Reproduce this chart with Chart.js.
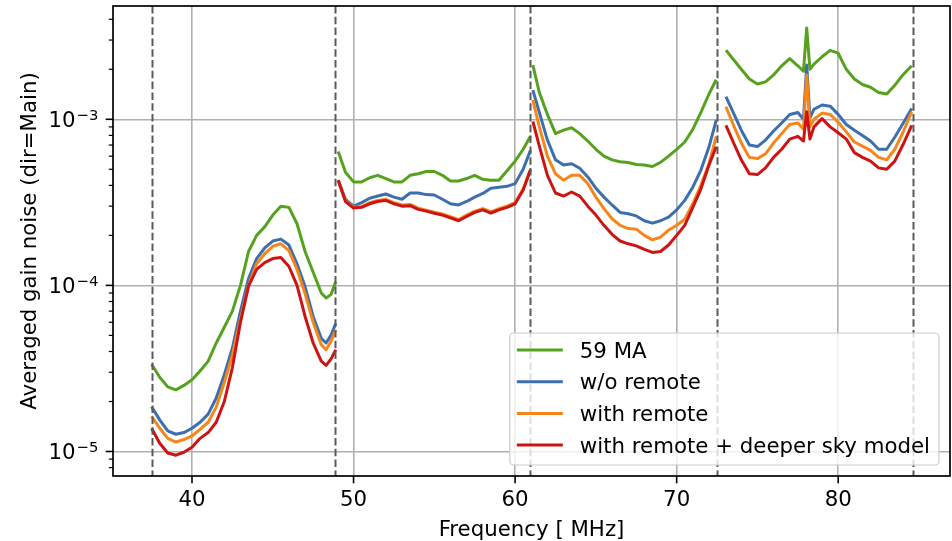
<!DOCTYPE html>
<html>
<head>
<meta charset="utf-8">
<script src="https://cdn.jsdelivr.net/npm/chart.js@4.4.1/dist/chart.umd.min.js"></script>
<style>
  html, body { margin: 0; padding: 0; background: #fff; }
  #wrap { width: 952px; height: 541px; }
</style>
</head>
<body>
<div id="wrap"><canvas id="chartGainNoise" width="952" height="541"></canvas></div>
<script>
/* Frequencies of each sub-band [MHz] */
const band1Freq = [37.5, 38, 38.5, 39, 39.5, 40, 40.5, 41, 41.5, 42, 42.5, 43, 43.5, 44, 44.5, 45, 45.5, 46, 46.5, 47, 47.5, 48, 48.3, 48.6, 48.9];
const band2Freq = [49.05, 49.5, 50, 50.5, 51, 51.5, 52, 52.5, 53, 53.5, 54, 54.5, 55, 55.5, 56, 56.5, 57, 57.5, 58, 58.5, 59, 59.5, 60, 60.5, 60.95];
const band3Freq = [61.1, 61.5, 62, 62.5, 63, 63.5, 64, 64.5, 65, 65.5, 66, 66.5, 67, 67.5, 68, 68.5, 69, 69.5, 70, 70.5, 71, 71.5, 72, 72.45];
const band4Freq = [73.05, 73.5, 74, 74.5, 75, 75.5, 76, 76.5, 77, 77.5, 77.85, 78.05, 78.25, 78.5, 79, 79.5, 80, 80.5, 81, 81.5, 82, 82.5, 83, 83.5, 84, 84.55];

/* 59 MA */
const ma59Band1 = [3.35e-5, 2.8e-5, 2.45e-5, 2.35e-5, 2.5e-5, 2.7e-5, 3.05e-5, 3.5e-5, 4.5e-5, 5.6e-5, 7.0e-5, 1.0e-4, 1.6e-4, 2.0e-4, 2.25e-4, 2.65e-4, 3.0e-4, 2.95e-4, 2.35e-4, 1.6e-4, 1.2e-4, 9.0e-5, 8.4e-5, 8.8e-5, 1.05e-4];
const ma59Band2 = [6.4e-4, 4.8e-4, 4.2e-4, 4.2e-4, 4.45e-4, 4.6e-4, 4.4e-4, 4.2e-4, 4.2e-4, 4.6e-4, 4.7e-4, 4.85e-4, 4.85e-4, 4.6e-4, 4.25e-4, 4.25e-4, 4.4e-4, 4.6e-4, 4.35e-4, 4.3e-4, 4.3e-4, 4.9e-4, 5.6e-4, 6.6e-4, 7.9e-4];
const ma59Band3 = [2.12e-3, 1.45e-3, 1.07e-3, 8.2e-4, 8.6e-4, 8.9e-4, 8.2e-4, 7.4e-4, 6.6e-4, 6.0e-4, 5.7e-4, 5.55e-4, 5.5e-4, 5.35e-4, 5.3e-4, 5.2e-4, 5.5e-4, 6.0e-4, 6.6e-4, 7.3e-4, 8.7e-4, 1.1e-3, 1.42e-3, 1.73e-3];
const ma59Band4 = [2.61e-3, 2.3e-3, 2.0e-3, 1.75e-3, 1.63e-3, 1.68e-3, 1.85e-3, 2.1e-3, 2.32e-3, 2.1e-3, 1.95e-3, 3.55e-3, 2.0e-3, 2.15e-3, 2.38e-3, 2.6e-3, 2.5e-3, 2.0e-3, 1.75e-3, 1.62e-3, 1.56e-3, 1.45e-3, 1.42e-3, 1.6e-3, 1.85e-3, 2.1e-3];

/* w/o remote */
const noRemoteBand1 = [1.86e-5, 1.55e-5, 1.33e-5, 1.27e-5, 1.3e-5, 1.38e-5, 1.5e-5, 1.68e-5, 2.1e-5, 2.9e-5, 4.2e-5, 7.0e-5, 1.1e-4, 1.45e-4, 1.68e-4, 1.85e-4, 1.9e-4, 1.75e-4, 1.35e-4, 9.8e-5, 6.5e-5, 4.8e-5, 4.5e-5, 5.0e-5, 5.9e-5];
const noRemoteBand2 = [4.3e-4, 3.3e-4, 3.0e-4, 3.15e-4, 3.35e-4, 3.45e-4, 3.55e-4, 3.4e-4, 3.3e-4, 3.6e-4, 3.6e-4, 3.52e-4, 3.5e-4, 3.3e-4, 3.1e-4, 3.05e-4, 3.2e-4, 3.4e-4, 3.58e-4, 3.85e-4, 3.9e-4, 3.95e-4, 4.1e-4, 5.0e-4, 6.5e-4];
const noRemoteBand3 = [1.5e-3, 1.1e-3, 7.5e-4, 5.7e-4, 5.3e-4, 5.4e-4, 5.07e-4, 4.5e-4, 3.85e-4, 3.4e-4, 3.05e-4, 2.75e-4, 2.7e-4, 2.62e-4, 2.45e-4, 2.37e-4, 2.45e-4, 2.58e-4, 2.85e-4, 3.25e-4, 3.9e-4, 4.95e-4, 6.8e-4, 9.9e-4];
const noRemoteBand4 = [1.37e-3, 1.1e-3, 8.6e-4, 7.0e-4, 6.85e-4, 7.5e-4, 8.5e-4, 9.5e-4, 1.07e-3, 1.1e-3, 1.0e-3, 2.12e-3, 1.02e-3, 1.15e-3, 1.22e-3, 1.2e-3, 1.07e-3, 9.3e-4, 8.6e-4, 8.0e-4, 7.4e-4, 6.6e-4, 6.6e-4, 7.8e-4, 9.4e-4, 1.16e-3];

/* with remote */
const remoteBand1 = [1.63e-5, 1.38e-5, 1.2e-5, 1.14e-5, 1.18e-5, 1.24e-5, 1.36e-5, 1.5e-5, 1.85e-5, 2.6e-5, 3.8e-5, 6.3e-5, 1.0e-4, 1.35e-4, 1.55e-4, 1.72e-4, 1.78e-4, 1.62e-4, 1.25e-4, 8.9e-5, 6.0e-5, 4.4e-5, 4.1e-5, 4.6e-5, 5.4e-5];
const remoteBand2 = [4.3e-4, 3.25e-4, 2.95e-4, 2.98e-4, 3.15e-4, 3.25e-4, 3.3e-4, 3.15e-4, 3.05e-4, 3.07e-4, 2.92e-4, 2.84e-4, 2.76e-4, 2.69e-4, 2.59e-4, 2.49e-4, 2.65e-4, 2.8e-4, 2.9e-4, 2.77e-4, 2.9e-4, 3.0e-4, 3.15e-4, 3.8e-4, 5.0e-4];
const remoteBand3 = [1.31e-3, 9.0e-4, 6.0e-4, 4.7e-4, 4.3e-4, 4.6e-4, 4.6e-4, 4.1e-4, 3.4e-4, 2.9e-4, 2.52e-4, 2.3e-4, 2.2e-4, 2.18e-4, 2.0e-4, 1.88e-4, 1.95e-4, 2.15e-4, 2.3e-4, 2.5e-4, 3.1e-4, 4.0e-4, 5.4e-4, 7.9e-4];
const remoteBand4 = [1.19e-3, 9.3e-4, 7.2e-4, 5.9e-4, 5.8e-4, 6.2e-4, 7.2e-4, 8.2e-4, 9.3e-4, 9.5e-4, 8.7e-4, 1.85e-3, 9.0e-4, 1.0e-3, 1.09e-3, 1.07e-3, 9.6e-4, 8.4e-4, 7.3e-4, 6.9e-4, 6.5e-4, 5.9e-4, 5.7e-4, 6.6e-4, 8.3e-4, 1.11e-3];

/* with remote + deeper sky model */
const deepBand1 = [1.38e-5, 1.12e-5, 9.8e-6, 9.5e-6, 9.9e-6, 1.06e-5, 1.2e-5, 1.3e-5, 1.5e-5, 2.0e-5, 3.2e-5, 6.0e-5, 9.9e-5, 1.25e-4, 1.37e-4, 1.45e-4, 1.47e-4, 1.3e-4, 1.0e-4, 6.5e-5, 4.5e-5, 3.5e-5, 3.3e-5, 3.6e-5, 4.1e-5];
const deepBand2 = [4.3e-4, 3.2e-4, 2.92e-4, 2.95e-4, 3.1e-4, 3.2e-4, 3.25e-4, 3.1e-4, 3.0e-4, 3.02e-4, 2.87e-4, 2.8e-4, 2.72e-4, 2.65e-4, 2.55e-4, 2.45e-4, 2.6e-4, 2.75e-4, 2.85e-4, 2.72e-4, 2.85e-4, 2.95e-4, 3.1e-4, 3.75e-4, 4.95e-4];
const deepBand3 = [9.7e-4, 6.9e-4, 4.6e-4, 3.6e-4, 3.45e-4, 3.65e-4, 3.45e-4, 3.0e-4, 2.65e-4, 2.3e-4, 2.03e-4, 1.85e-4, 1.78e-4, 1.73e-4, 1.65e-4, 1.58e-4, 1.6e-4, 1.75e-4, 2.0e-4, 2.3e-4, 2.95e-4, 3.8e-4, 5.3e-4, 6.84e-4];
const deepBand4 = [9.2e-4, 7.3e-4, 5.7e-4, 4.7e-4, 4.65e-4, 5.1e-4, 5.9e-4, 6.6e-4, 7.6e-4, 7.9e-4, 7.4e-4, 1.11e-3, 7.6e-4, 9.0e-4, 1.01e-3, 9.0e-4, 8.3e-4, 7.6e-4, 6.3e-4, 5.9e-4, 5.6e-4, 5.1e-4, 5.0e-4, 5.6e-4, 7.0e-4, 9.2e-4];

const seriesLabels = ["59 MA", "w/o remote", "with remote", "with remote + deeper sky model"];
const seriesColors = ["#56a21f", "#3b6fae", "#f7861a", "#cc1414"];
const bandEdges = [37.5, 48.85, 60.95, 72.5, 84.6];
const xTicks = [40, 50, 60, 70, 80];
const xRange = [35.11, 86.92];
const yRange = [7.12e-6, 4.81e-3];

const FONT = '"DejaVu Sans", sans-serif';
const FS = "21.3px ";
const bandFreqs = [band1Freq, band2Freq, band3Freq, band4Freq];

// glue the sub-bands together, with a null between them so the line breaks
const buildPoints = (bands) => {
  const pts = [];
  bandFreqs.forEach((fs, k) => {
    if (k > 0) pts.push({ x: (bandFreqs[k - 1][bandFreqs[k - 1].length - 1] + fs[0]) / 2, y: null });
    fs.forEach((f, i) => pts.push({ x: f, y: bands[k][i] }));
  });
  return pts;
};

const allSeries = [
  [ma59Band1, ma59Band2, ma59Band3, ma59Band4],
  [noRemoteBand1, noRemoteBand2, noRemoteBand3, noRemoteBand4],
  [remoteBand1, remoteBand2, remoteBand3, remoteBand4],
  [deepBand1, deepBand2, deepBand3, deepBand4],
];

const isDecade = (v) => Math.abs(Math.log10(v) - Math.round(Math.log10(v))) < 1e-6;

/* Axes decorations, matplotlib look */
const axesDecor = {
  id: "axesDecor",
  afterDatasetsDraw(chart) {
    const { ctx, chartArea: a, scales } = chart;
    const xs = scales.x, ys = scales.y;
    ctx.save();

    // dashed sub-band edges
    ctx.strokeStyle = "#5a5a5a";
    ctx.lineWidth = 2;
    ctx.setLineDash([7.5, 3.3]);
    bandEdges.forEach((f) => {
      const px = Math.round(xs.getPixelForValue(f)) + 0.5;
      ctx.beginPath();
      ctx.moveTo(px, a.top);
      ctx.lineTo(px, a.bottom);
      ctx.stroke();
    });
    ctx.setLineDash([]);

    // frame
    ctx.strokeStyle = "#000";
    ctx.lineWidth = 1.7;
    ctx.strokeRect(a.left, a.top, a.right - a.left, a.bottom - a.top);

    // y ticks + labels
    ys.ticks.forEach((t) => {
      const py = ys.getPixelForValue(t.value);
      const major = isDecade(t.value);
      ctx.lineWidth = major ? 1.6 : 1.2;
      ctx.beginPath();
      ctx.moveTo(a.left - (major ? 7.3 : 4.2), py);
      ctx.lineTo(a.left, py);
      ctx.stroke();
      if (major) {
        const e = Math.round(Math.log10(t.value));
        const sup = "\u2212" + Math.abs(e);
        ctx.fillStyle = "#000";
        ctx.textAlign = "left";
        ctx.textBaseline = "alphabetic";
        ctx.font = "14.8px " + FONT;
        const supW = ctx.measureText(sup).width;
        ctx.font = FS + FONT;
        const mainW = ctx.measureText("10").width;
        const right = a.left - 14.6;
        ctx.fillText("10", right - supW - mainW - 1, py + 7.5);
        ctx.font = "14.8px " + FONT;
        ctx.fillText(sup, right - supW, py + 1);
      }
    });

    // x ticks + labels
    ctx.font = FS + FONT;
    ctx.textAlign = "center";
    ctx.textBaseline = "alphabetic";
    xs.ticks.forEach((t) => {
      const px = xs.getPixelForValue(t.value);
      ctx.lineWidth = 1.6;
      ctx.beginPath();
      ctx.moveTo(px, a.bottom);
      ctx.lineTo(px, a.bottom + 7.3);
      ctx.stroke();
      ctx.fillText(String(t.value), px, a.bottom + 30);
    });

    // axis titles
    ctx.fillText("Frequency [ MHz]", (a.left + a.right) / 2, 536);
    ctx.save();
    ctx.translate(36, (a.top + a.bottom) / 2);
    ctx.rotate(-Math.PI / 2);
    ctx.fillText("Averaged gain noise (dir=Main)", 0, 0);
    ctx.restore();

    // legend box, lower right
    ctx.font = FS + FONT;
    let textW = 0;
    seriesLabels.forEach((s) => (textW = Math.max(textW, ctx.measureText(s).width)));
    const boxW = textW + 79, boxH = 132;
    const bx = a.right - 11 - boxW, by = a.bottom - 11 - boxH;
    ctx.beginPath();
    ctx.roundRect(bx, by, boxW, boxH, 4);
    ctx.fillStyle = "rgba(255,255,255,0.8)";
    ctx.fill();
    ctx.strokeStyle = "#cccccc";
    ctx.lineWidth = 1.2;
    ctx.stroke();
    ctx.textAlign = "left";
    seriesLabels.forEach((s, i) => {
      const cy = by + 17 + i * 31.7;
      ctx.strokeStyle = seriesColors[i];
      ctx.lineWidth = 3;
      ctx.beginPath();
      ctx.moveTo(bx + 7, cy);
      ctx.lineTo(bx + 53, cy);
      ctx.stroke();
      ctx.fillStyle = "#000";
      ctx.fillText(s, bx + 70, cy + 7.5);
    });

    ctx.restore();
  },
};

const chartData = {
  datasets: allSeries.map((bands, i) => ({
    label: seriesLabels[i],
    data: buildPoints(bands),
    borderColor: seriesColors[i],
    backgroundColor: seriesColors[i],
    borderWidth: 3,
    pointRadius: 0,
    tension: 0,
    spanGaps: false,
    borderJoinStyle: "round",
    order: 4 - i,
  })),
};

const options = {
  responsive: false,
  animation: false,
  devicePixelRatio: 1,
  layout: { padding: { left: 0, right: 2, top: 6, bottom: 0 } },
  plugins: { legend: { display: false }, tooltip: { enabled: false } },
  scales: {
    x: {
      type: "linear",
      min: xRange[0],
      max: xRange[1],
      afterBuildTicks: (s) => { s.ticks = xTicks.map((v) => ({ value: v })); },
      afterFit: (s) => { s.height = 65; },
      ticks: { display: false },
      grid: { color: "#b0b0b0", lineWidth: 1.6, drawTicks: false },
      border: { display: false },
    },
    y: {
      type: "logarithmic",
      min: yRange[0],
      max: yRange[1],
      afterBuildTicks: (s) => {
        const t = [];
        for (let e = -6; e <= -3; e++)
          for (let m = 1; m <= 9; m++) {
            const v = m * Math.pow(10, e);
            if (v >= s.min && v <= s.max) t.push({ value: v, major: m === 1 });
          }
        s.ticks = t;
      },
      afterFit: (s) => { s.width = 113; },
      ticks: { display: false },
      grid: {
        color: (c) => (c.tick && isDecade(c.tick.value) ? "#b0b0b0" : "rgba(0,0,0,0)"),
        lineWidth: 1.6,
        drawTicks: false,
      },
      border: { display: false },
    },
  },
};

const ctx = document.getElementById("chartGainNoise").getContext("2d");
const gainChart = new Chart(ctx, {
  type: "line",
  data: chartData,
  options: options,
  plugins: [axesDecor],
});
</script>
</body>
</html>
